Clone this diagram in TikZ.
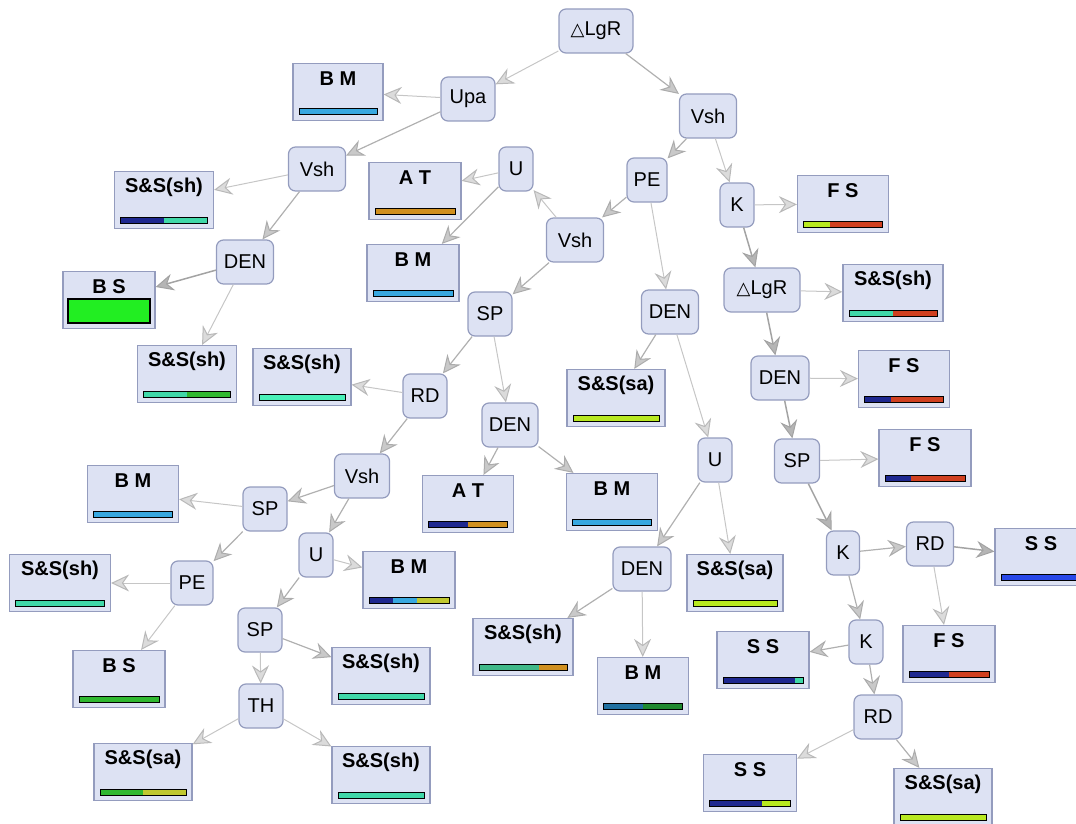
\documentclass[tikz,border=0pt]{standalone}
\usepackage{fontspec}
\setmainfont{Liberation Sans}
\newfontfamily\symfont{DejaVu Sans}
\usetikzlibrary{arrows.meta,calc}
\definecolor{nodefill}{HTML}{DDE2F3}
\definecolor{nodedraw}{HTML}{949CBE}
\definecolor{lblue}{HTML}{38A8E0}
\definecolor{navy}{HTML}{1E2890}
\definecolor{teal}{HTML}{40D8A8}
\definecolor{mint}{HTML}{48F0B8}
\definecolor{orng}{HTML}{D09020}
\definecolor{grn}{HTML}{30B830}
\definecolor{ygreen}{HTML}{B8E820}
\definecolor{olive}{HTML}{C0C830}
\definecolor{rd}{HTML}{D04020}
\definecolor{sblue}{HTML}{2848E8}
\definecolor{bgreen}{HTML}{22EE22}
\definecolor{dteal}{HTML}{2070A0}
\definecolor{dgreen}{HTML}{208A30}
\definecolor{tgreen}{HTML}{40B888}
\tikzset{
  dec/.style={draw=nodedraw, fill=nodefill, rounded corners=7pt, minimum height=44pt, inner sep=2pt, line width=1.2pt, font=\fontsize{20}{22}\selectfont},
  leaf/.style={draw=nodedraw, fill=nodefill, minimum height=57pt, inner sep=0pt, line width=1.2pt},
  leaflab/.style={inner sep=0pt, font=\fontsize{20}{22}\selectfont\bfseries},
  tipA/.tip={Stealth[length=18pt,width=17pt,inset=6pt,fill=gray!28,color=gray!55,line width=1pt]},
  tipB/.tip={Stealth[length=18pt,width=17pt,inset=6pt,fill=gray!42,color=gray!65,line width=1pt]},
  tipC/.tip={Stealth[length=18pt,width=17pt,inset=6pt,fill=gray!58,color=gray!72,line width=1pt]},
  eA/.style={draw=gray!45, line width=1pt, -tipA},
  eB/.style={draw=gray!62, line width=1.2pt, -tipB},
  eC/.style={draw=gray!72, line width=1.5pt, -tipC},
}
\newcommand\leafbox[6]{%
  \node[leaf, minimum width=#4pt] (#1) at (#2,#3) {};
  \node[leaflab] (#1-t) at (#2,#3-13) {#5};
  \pgfmathsetmacro\bl{#2-#4/2+6}%
  \pgfmathsetmacro\bw{#4-12}%
  \foreach \p/\q/\col in {#6}{\fill[\col] (\bl+\p*\bw,#3+17) rectangle (\bl+\q*\bw,#3+23);}
  \draw[line width=1pt] (\bl,#3+17) rectangle (\bl+\bw,#3+23);
}
\begin{document}
\begin{tikzpicture}[x=1pt,y=-1pt]
\useasboundingbox (0,0) rectangle (1076,824);
\clip (0,0) rectangle (1076,824);
% decision nodes
\node[dec, minimum width=74pt] (d1) at (596,31) {{\symfont\fontsize{18}{20}\selectfont △}LgR};
\node[dec, minimum width=54pt] (d2) at (468,99) {Upa};
\node[dec, minimum width=57pt] (d3) at (708,116) {Vsh};
\node[dec, minimum width=57pt] (d4) at (317,169) {Vsh};
\node[dec, minimum width=57pt] (d5) at (245,262) {DEN};
\node[dec, minimum width=34pt] (d6) at (516,169) {U};
\node[dec, minimum width=40pt] (d7) at (647,180) {PE};
\node[dec, minimum width=57pt] (d8) at (575,240) {Vsh};
\node[dec, minimum width=44pt] (d9) at (490,314) {SP};
\node[dec, minimum width=57pt] (d10) at (670,312) {DEN};
\node[dec, minimum width=44pt] (d11) at (425,396) {RD};
\node[dec, minimum width=56pt] (d12) at (510,425) {DEN};
\node[dec, minimum width=55pt] (d13) at (362,476) {Vsh};
\node[dec, minimum width=44pt] (d14) at (265,509) {SP};
\node[dec, minimum width=34pt] (d15) at (316,555) {U};
\node[dec, minimum width=42pt] (d16) at (192,583) {PE};
\node[dec, minimum width=44pt] (d17) at (260,630) {SP};
\node[dec, minimum width=44pt] (d18) at (261,706) {TH};
\node[dec, minimum width=34pt] (d19) at (715,460) {U};
\node[dec, minimum width=58pt] (d20) at (642,569) {DEN};
\node[dec, minimum width=34pt] (d21) at (737,205) {K};
\node[dec, minimum width=76pt] (d22) at (762,290) {{\symfont\fontsize{18}{20}\selectfont △}LgR};
\node[dec, minimum width=58pt] (d23) at (780,378) {DEN};
\node[dec, minimum width=45pt] (d24) at (797,461) {SP};
\node[dec, minimum width=33pt] (d25) at (843,553) {K};
\node[dec, minimum width=47pt] (d26) at (930,544) {RD};
\node[dec, minimum width=34pt] (d27) at (866,642) {K};
\node[dec, minimum width=48pt] (d28) at (878,717) {RD};
% leaf boxes
\leafbox{l1}{338}{92}{90}{B M}{0/1/lblue}
\leafbox{l2}{164}{200}{99}{S\&S(sh)}{0/.5/navy,.5/1/teal}
\leafbox{l3}{415}{191}{92}{A T}{0/1/orng}
\leafbox{l4}{413}{273}{92}{B M}{0/1/lblue}
\node[leaf, minimum width=92pt] (l5) at (109,300) {};
\node[leaflab] (l5-t) at (109,287) {B S};
\draw[fill=bgreen, line width=1.2pt] (68,299) rectangle (150,323);
\leafbox{l6}{187}{374}{99}{S\&S(sh)}{0/.5/teal,.5/1/grn}
\leafbox{l7}{302}{377}{98}{S\&S(sh)}{0/1/mint}
\leafbox{l8}{616}{398}{98}{S\&S(sa)}{0/1/ygreen}
\leafbox{l9}{468}{504}{91}{A T}{0/.5/navy,.5/1/orng}
\leafbox{l10}{612}{502}{91}{B M}{0/1/lblue}
\leafbox{l11}{133}{494}{91}{B M}{0/1/lblue}
\leafbox{l12}{60}{583}{101}{S\&S(sh)}{0/1/teal}
\leafbox{l13}{409}{580}{92}{B M}{0/.3/navy,.3/.6/lblue,.6/1/olive}
\leafbox{l14}{119}{679}{92}{B S}{0/1/grn}
\leafbox{l15}{381}{676}{98}{S\&S(sh)}{0/1/teal}
\leafbox{l16}{143}{772}{98}{S\&S(sa)}{0/.5/grn,.5/1/olive}
\leafbox{l17}{381}{775}{98}{S\&S(sh)}{0/1/teal}
\leafbox{l18}{523}{647}{100}{S\&S(sh)}{0/.68/tgreen,.68/1/orng}
\leafbox{l19}{643}{686}{91}{B M}{0/.5/dteal,.5/1/dgreen}
\leafbox{l20}{735}{583}{96}{S\&S(sa)}{0/1/ygreen}
\leafbox{l21}{843}{204}{91}{F S}{0/.33/ygreen,.33/1/rd}
\leafbox{l22}{893}{293}{100}{S\&S(sh)}{0/.5/teal,.5/1/rd}
\leafbox{l23}{904}{379}{91}{F S}{0/.33/navy,.33/1/rd}
\leafbox{l24}{925}{458}{92}{F S}{0/.33/navy,.33/1/rd}
\leafbox{l25}{1041}{557}{92}{S S}{0/1/sblue}
\leafbox{l26}{763}{660}{92}{S S}{0/.9/navy,.9/1/teal}
\leafbox{l27}{949}{654}{92}{F S}{0/.5/navy,.5/1/rd}
\leafbox{l28}{750}{783}{93}{S S}{0/.65/navy,.65/1/ygreen}
\leafbox{l29}{943}{797}{98}{S\&S(sa)}{0/1/ygreen}
% connectors
\draw[eA] (d1) -- (d2);
\draw[eB] (d1) -- (d3);
\draw[eA] (d2) -- (l1);
\draw[eB] (d2) -- (d4);
\draw[eA] (d4) -- (l2);
\draw[eB] (d4) -- (d5);
\draw[eC] (d5) -- (l5);
\draw[eA] (d5) -- (l6);
\draw[eA] (d6) -- (l3);
\draw[eB] (d6) -- (l4);
\draw[eA] (d8) -- (d6);
\draw[eB] (d3) -- (d7);
\draw[eA] (d3) -- (d21);
\draw[eB] (d7) -- (d8);
\draw[eA] (d7) -- (d10);
\draw[eB] (d8) -- (d9);
\draw[eB] (d9) -- (d11);
\draw[eA] (d9) -- (d12);
\draw[eA] (d11) -- (l7);
\draw[eB] (d11) -- (d13);
\draw[eB] (d10) -- (l8);
\draw[eA] (d10) -- (d19);
\draw[eB] (d12) -- (l9);
\draw[eB] (d12) -- (l10);
\draw[eB] (d13) -- (d14);
\draw[eB] (d13) -- (d15);
\draw[eA] (d14) -- (l11);
\draw[eB] (d14) -- (d16);
\draw[eA] (d16) -- (l12);
\draw[eA] (d16) -- (l14);
\draw[eA] (d15) -- (l13);
\draw[eB] (d15) -- (d17);
\draw[eB] (d17) -- (l15);
\draw[eA] (d17) -- (d18);
\draw[eA] (d18) -- (l16);
\draw[eA] (d18) -- (l17);
\draw[eB] (d19) -- (d20);
\draw[eA] (d19) -- (l20);
\draw[eB] (d20) -- (l18);
\draw[eA] (d20) -- (l19);
\draw[eA] (d21) -- (l21);
\draw[eC] (d21) -- (d22);
\draw[eA] (d22) -- (l22);
\draw[eC] (d22) -- (d23);
\draw[eA] (d23) -- (l23);
\draw[eC] (d23) -- (d24);
\draw[eA] (d24) -- (l24);
\draw[eC] (d24) -- (d25);
\draw[eB] (d25) -- (d26);
\draw[eC] (d26) -- (l25);
\draw[eA] (d26) -- (l27);
\draw[eB] (d25) -- (d27);
\draw[eB] (d27) -- (l26);
\draw[eB] (d27) -- (d28);
\draw[eA] (d28) -- (l28);
\draw[eB] (d28) -- (l29);
\end{tikzpicture}
\end{document}
